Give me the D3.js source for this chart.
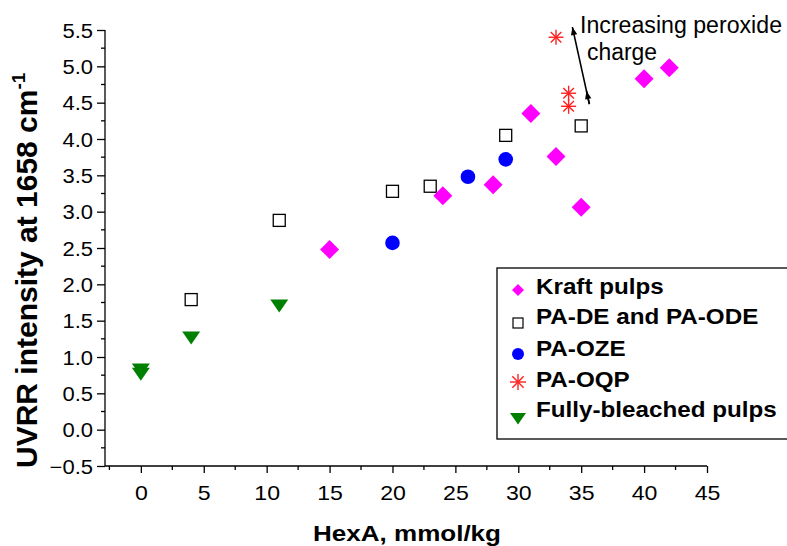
<!DOCTYPE html>
<html><head><meta charset="utf-8">
<script src="https://cdn.jsdelivr.net/npm/d3@7"></script>
<style>body{margin:0;background:#fff}svg{display:block;font-family:"Liberation Sans",Arial,sans-serif}</style>
</head><body><svg id="c" width="787" height="546"></svg>
<script>
const xTicks = [0,5,10,15,20,25,30,35,40,45];
const yTicks = [-0.5,0,0.5,1,1.5,2,2.5,3,3.5,4,4.5,5,5.5];
const kraftX = [15,24,28,31,33,35,40,42];
const kraftY = [2.48,3.22,3.37,4.35,3.76,3.06,4.83,4.98];
const padeX = [4,11,20,23,29,35];
const padeY = [1.79,2.88,3.28,3.35,4.05,4.18];
const ozeX = [20,26,29];
const ozeY = [2.57,3.48,3.72];
const oqpX = [33,34,34];
const oqpY = [5.40,4.63,4.45];
const fbX = [0,0,4,11];
const fbY = [0.85,0.79,1.29,1.73];
const legendLabels = ["Kraft pulps","PA-DE and PA-ODE","PA-OZE","PA-OQP","Fully-bleached pulps"];

const svg = d3.select("#c");
const x = d3.scaleLinear().domain([-2.85,45]).range([105,707]);
const y = d3.scaleLinear().domain([-0.5,5.5]).range([466,30]);

function stretch(sel, k){ sel.each(function(){ const L=this.getComputedTextLength(); d3.select(this).attr("textLength",L*k).attr("lengthAdjust","spacingAndGlyphs"); }); }

// axes
const xAxis = d3.axisBottom(x).tickValues(xTicks).tickSize(7).tickFormat(d3.format("d"));
const gx = svg.append("g").attr("transform","translate(0,466)").call(xAxis);
gx.select(".domain").attr("d",`M105,0H707`).attr("stroke","#000").attr("stroke-width",1.3);
gx.selectAll(".tick line").attr("stroke-width",1.3);
gx.selectAll(".tick text").attr("font-size",21).attr("y",19).attr("dy","0.71em");
d3.range(-2.5,45,5).forEach(v=>{ if(x(v)>105) gx.append("line").attr("x1",x(v)).attr("x2",x(v)).attr("y1",0).attr("y2",4).attr("stroke","#000").attr("stroke-width",1.3);});

const yAxis = d3.axisLeft(y).tickValues(yTicks).tickSize(8).tickFormat(d3.format(".1f"));
const gy = svg.append("g").attr("transform","translate(105,0)").call(yAxis);
gy.select(".domain").attr("d",`M0,30V466`).attr("stroke","#000").attr("stroke-width",1.3);
gy.selectAll(".tick line").attr("stroke-width",1.3);
gy.selectAll(".tick text").attr("font-size",20).attr("x",-12).attr("dy","0.35em");
d3.range(-0.25,5.5,0.5).forEach(v=>{ gy.append("line").attr("x1",0).attr("x2",-4).attr("y1",y(v)).attr("y2",y(v)).attr("stroke","#000").attr("stroke-width",1.3);});
svg.selectAll(".tick text").attr("fill","#000");
stretch(svg.selectAll(".tick text"),1.1);

// axis titles
const xt = svg.append("text").attr("x",407).attr("y",541).attr("text-anchor","middle")
  .attr("font-size",22).attr("font-weight","bold").text("HexA, mmol/kg");
xt.attr("textLength",188).attr("lengthAdjust","spacingAndGlyphs");
const yt = svg.append("text").attr("transform","translate(37,468) rotate(-90)").attr("text-anchor","start")
  .attr("font-size",30).attr("font-weight","bold");
yt.append("tspan").text("UVRR intensity at 1658 cm");
yt.append("tspan").attr("dy",-12).attr("font-size",19).text("-1");

// markers
const diamond = (s)=>`M0,${-s}L${s},0L0,${s}L${-s},0Z`;
const tri = (w)=>`M${-w},${-w*0.5}L${w},${-w*0.5}L0,${w*0.95}Z`;
function star(g,cx,cy,r){
  for(let a=0;a<4;a++){const t=a*Math.PI/4;
    g.append("line").attr("x1",cx-r*Math.cos(t)).attr("y1",cy-r*Math.sin(t)).attr("x2",cx+r*Math.cos(t)).attr("y2",cy+r*Math.sin(t)).attr("stroke","#ff2020").attr("stroke-width",1.4);}
}
const pts = svg.append("g");
pts.selectAll(".sq").data(padeX.map((v,i)=>[v,padeY[i]])).enter().append("rect")
  .attr("x",d=>x(d[0])-6).attr("y",d=>y(d[1])-6).attr("width",12).attr("height",12)
  .attr("fill","none").attr("stroke","#000").attr("stroke-width",1.3);
pts.selectAll(".ci").data(ozeX.map((v,i)=>[v,ozeY[i]])).enter().append("circle")
  .attr("cx",d=>x(d[0])).attr("cy",d=>y(d[1])).attr("r",7.3).attr("fill","#0000ff");
pts.selectAll(".tr").data(fbX.map((v,i)=>[v,fbY[i]])).enter().append("path")
  .attr("transform",d=>`translate(${x(d[0])},${y(d[1])})`).attr("d",tri(9)).attr("fill","#008000");
pts.selectAll(".di").data(kraftX.map((v,i)=>[v,kraftY[i]])).enter().append("path")
  .attr("transform",d=>`translate(${x(d[0])},${y(d[1])})`).attr("d",diamond(9.5)).attr("fill","#ff00ff");
oqpX.forEach((v,i)=>star(pts,x(v),y(oqpY[i]),7.5));

// arrow annotation
svg.append("defs").append("marker").attr("id","ah").attr("viewBox","0 0 10 10").attr("refX",10).attr("refY",5)
  .attr("markerWidth",9).attr("markerHeight",8).attr("markerUnits","userSpaceOnUse").attr("orient","auto")
  .append("path").attr("d","M0,1L10,5L0,9Z").attr("fill","#000");
const ax1=x(35.65), ay1=y(4.48), ax2=x(34.3), ay2=y(5.54);
svg.append("line").attr("x1",ax1).attr("y1",ay1).attr("x2",ax2).attr("y2",ay2)
  .attr("stroke","#000").attr("stroke-width",1.6).attr("marker-end","url(#ah)");
const t=0.17, mx=ax1+(ax2-ax1)*t, my=ay1+(ay2-ay1)*t;
svg.append("line").attr("x1",ax1).attr("y1",ay1).attr("x2",mx).attr("y2",my)
  .attr("stroke","#000").attr("stroke-width",1.6).attr("marker-end","url(#ah)");
svg.append("text").attr("x",580).attr("y",33).attr("font-size",23).attr("fill","#000").text("Increasing peroxide")
  .attr("textLength",202).attr("lengthAdjust","spacingAndGlyphs");
svg.append("text").attr("x",587).attr("y",60).attr("font-size",23).attr("fill","#000").text("charge")
  .attr("textLength",70).attr("lengthAdjust","spacingAndGlyphs");

// legend
const lg = svg.append("g");
lg.append("rect").attr("x",497).attr("y",268).attr("width",300).attr("height",171)
  .attr("fill","#fff").attr("stroke","#000").attr("stroke-width",1.3);
const ly = [294,324,356,387,417];
const lt = lg.selectAll(".lt").data(legendLabels).enter().append("text")
  .attr("x",536).attr("y",(d,i)=>ly[i]).attr("font-size",22)
  .attr("font-weight","bold").attr("fill","#000").text(d=>d);
stretch(lt,1.1);
lg.append("path").attr("transform",`translate(518,${ly[0]-4})`).attr("d",diamond(6)).attr("fill","#ff00ff");
lg.append("rect").attr("x",513).attr("y",ly[1]-6).attr("width",10).attr("height",10).attr("fill","none").attr("stroke","#000").attr("stroke-width",1.2);
lg.append("circle").attr("cx",518).attr("cy",ly[2]-2).attr("r",6).attr("fill","#0000ff");
star(lg,518,ly[3]-5,8);
lg.append("path").attr("transform",`translate(518,${ly[4]})`).attr("d",tri(8)).attr("fill","#008000");
</script></body></html>
